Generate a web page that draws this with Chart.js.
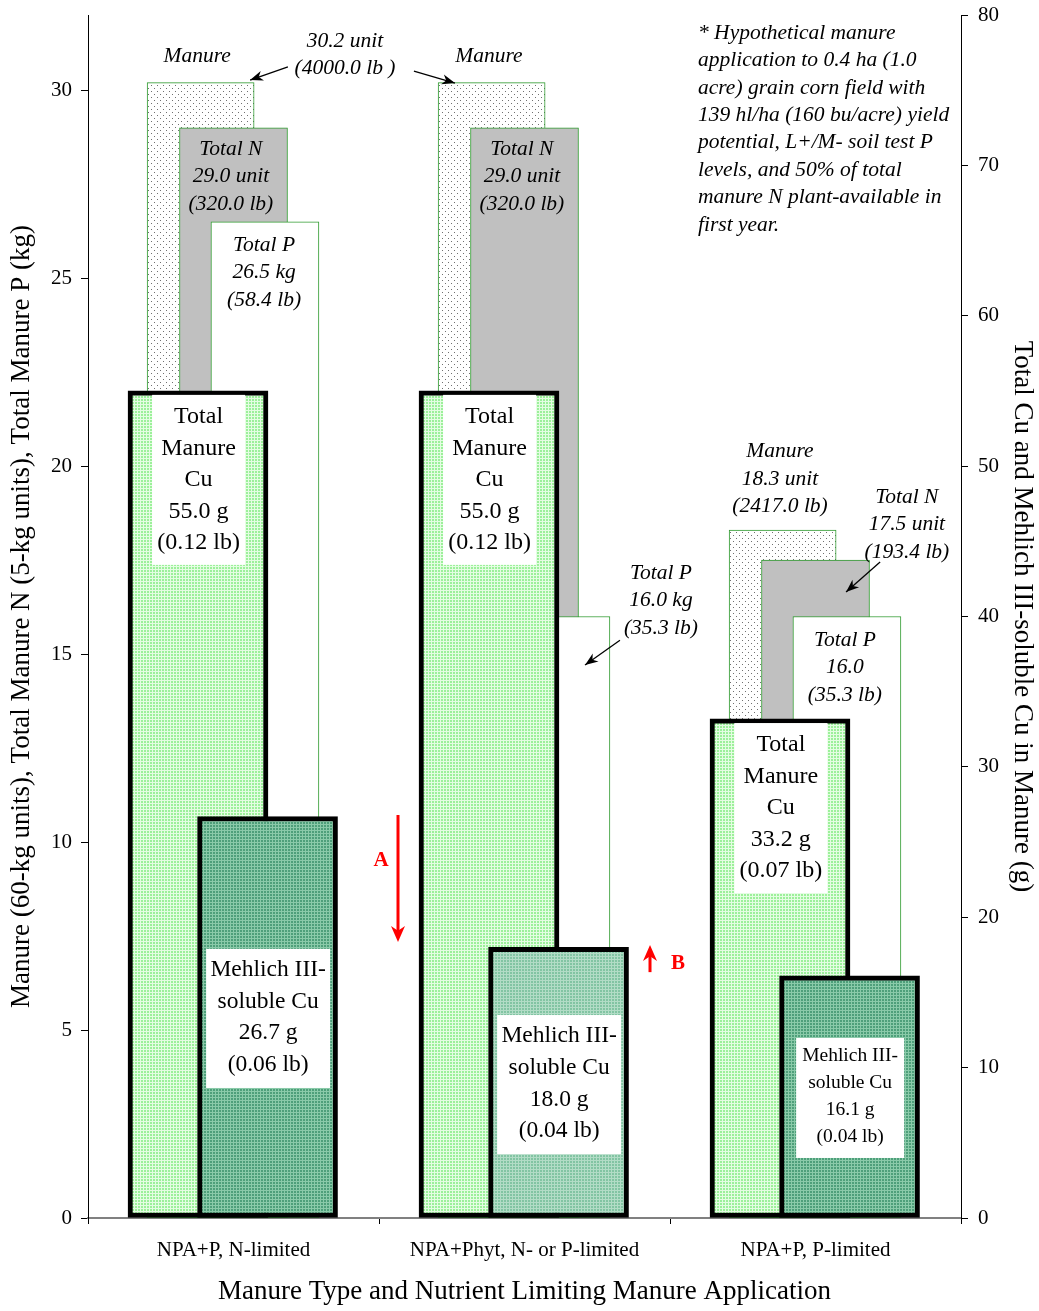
<!DOCTYPE html>
<html lang="en">
<head>
<meta charset="UTF-8">
<title>Manure Cu by manure type</title>
<script src="https://cdn.jsdelivr.net/npm/chart.js"></script>
<style>
  body { margin: 0; background: #fff; }
  #wrap { width: 1039px; height: 1311px; }
</style>
</head>
<body>
<div id="wrap"><canvas id="chart"></canvas></div>
<script>
// data
const categories = ['NPA+P, N-limited', 'NPA+Phyt, N- or P-limited', 'NPA+P, P-limited'];
const manureUnits = [30.2, 30.2, 18.3];   // 60-kg units
const manureLb = [4000.0, 4000.0, 2417.0];
const totalN = [29.0, 29.0, 17.5];        // 5-kg units
const totalNLb = [320.0, 320.0, 193.4];
const totalP = [26.5, 16.0, 16.0];        // kg
const totalPLb = [58.4, 35.3, 35.3];
const totalCu = [55.0, 55.0, 33.2];       // g, right axis
const totalCuLb = [0.12, 0.12, 0.07];
const mehlichCu = [26.7, 18.0, 16.1];     // g, right axis
const mehlichCuLb = [0.06, 0.04, 0.04];
const leftTicks = [0, 5, 10, 15, 20, 25, 30];
const rightTicks = [0, 10, 20, 30, 40, 50, 60, 70, 80];

const serif = "'Liberation Serif', 'Times New Roman', serif";

function makePattern(size, bg, fg, paint) {
  const c = document.createElement('canvas');
  c.width = size; c.height = size;
  const g = c.getContext('2d');
  g.fillStyle = bg;
  g.fillRect(0, 0, size, size);
  g.fillStyle = fg;
  paint(g);
  return document.createElement('canvas').getContext('2d').createPattern(c, 'repeat');
}

const dots = makePattern(6, '#ffffff', '#707070', g => { g.fillRect(1, 1, 1, 1); g.fillRect(4, 4, 1, 1); });
const grid3 = g => { g.fillRect(2, 0, 1, 3); g.fillRect(0, 2, 3, 1); };
const cuFill = makePattern(3, '#9cf09a', '#e4fde2', grid3);
const mehDark = makePattern(3, '#4e9f7a', '#8acaa9', grid3);
const mehLight = makePattern(3, '#82c4a3', '#b2dcc6', grid3);

// bar centre shift inside a group (x units) and width (px)
function barSet(label, values, shift, width, axis, extra) {
  return Object.assign({
    label: label,
    data: values.map((v, i) => ({ x: i + 0.5 + shift, y: v })),
    xAxisID: 'xb',
    yAxisID: axis,
    grouped: false,
    barThickness: width
  }, extra);
}

const datasets = [
  barSet('Manure', manureUnits, -0.113, 107, 'y', { backgroundColor: dots, borderColor: '#2f9a2f', borderWidth: 1, borderSkipped: false, order: 5 }),
  barSet('Total N', totalN, 0.0, 108, 'y', { backgroundColor: '#c0c0c0', borderColor: '#2f9a2f', borderWidth: 1, borderSkipped: false, order: 4 }),
  barSet('Total P', totalP, 0.108, 108, 'y', { backgroundColor: '#ffffff', borderColor: '#2f9a2f', borderWidth: 1, borderSkipped: false, order: 3 }),
  barSet('Total Manure Cu', totalCu, -0.122, 140, 'y2', { backgroundColor: cuFill, borderColor: '#000', borderWidth: 5, borderSkipped: false, order: 2 }),
  barSet('Mehlich III-soluble Cu', mehlichCu, 0.117, 140, 'y2', { backgroundColor: [mehDark, mehLight, mehDark], borderColor: '#000', borderWidth: 5, borderSkipped: false, order: 1 })
];

// text placed in data units of the bar axis (x) and left axis (y)
const italicLabels = [
  { x: 0.375, y: 30.91, lines: ['Manure'] },
  { x: 0.883, y: 31.31, lines: [manureUnits[0].toFixed(1) + ' unit', '(' + manureLb[0].toFixed(1) + ' lb )'] },
  { x: 1.378, y: 30.91, lines: ['Manure'] },
  { x: 0.491, y: 28.43, lines: ['Total N', totalN[0].toFixed(1) + ' unit', '(' + totalNLb[0].toFixed(1) + ' lb)'] },
  { x: 1.491, y: 28.43, lines: ['Total N', totalN[1].toFixed(1) + ' unit', '(' + totalNLb[1].toFixed(1) + ' lb)'] },
  { x: 0.605, y: 25.88, lines: ['Total P', totalP[0].toFixed(1) + ' kg', '(' + totalPLb[0].toFixed(1) + ' lb)'] },
  { x: 1.969, y: 17.16, lines: ['Total P', totalP[1].toFixed(1) + ' kg', '(' + totalPLb[1].toFixed(1) + ' lb)'] },
  { x: 2.378, y: 20.38, lines: ['Manure', manureUnits[2].toFixed(1) + ' unit', '(' + manureLb[2].toFixed(1) + ' lb)'] },
  { x: 2.814, y: 19.18, lines: ['Total N', totalN[2].toFixed(1) + ' unit', '(' + totalNLb[2].toFixed(1) + ' lb)'] },
  { x: 2.601, y: 15.37, lines: ['Total P', totalP[2].toFixed(1), '(' + totalPLb[2].toFixed(1) + ' lb)'] }
];

const cuLines = i => ['Total', 'Manure', 'Cu', totalCu[i].toFixed(1) + ' g', '(' + totalCuLb[i].toFixed(2) + ' lb)'];
const mehLines = i => ['Mehlich III-', 'soluble Cu', mehlichCu[i].toFixed(1) + ' g', '(' + mehlichCuLb[i].toFixed(2) + ' lb)'];
const boxLabels = [
  { x: 0.380, y: 21.31, lines: cuLines(0), size: 24, lh: 31.5, w: 93, padT: 22, padB: 22 },
  { x: 1.380, y: 21.31, lines: cuLines(1), size: 24, lh: 31.5, w: 93, padT: 22, padB: 22 },
  { x: 2.381, y: 12.58, lines: cuLines(2), size: 24, lh: 31.5, w: 93, padT: 22, padB: 22 },
  { x: 0.619, y: 6.60, lines: mehLines(0), size: 23.5, lh: 31.7, w: 124, padT: 21, padB: 23 },
  { x: 1.619, y: 4.84, lines: mehLines(1), size: 23.5, lh: 31.7, w: 124, padT: 21, padB: 23 },
  { x: 2.619, y: 4.31, lines: mehLines(2), size: 19.5, lh: 27, w: 108, padT: 18, padB: 21 }
];

const arrows = [
  { x1: 0.687, y1: 30.62, x2: 0.557, y2: 30.27 },
  { x1: 1.120, y1: 30.51, x2: 1.261, y2: 30.19 },
  { x1: 1.828, y1: 15.37, x2: 1.708, y2: 14.71 },
  { x1: 2.722, y1: 17.45, x2: 2.605, y2: 16.65 }
];
const redArrows = [
  { x1: 1.0653, y1: 10.72, x2: 1.0653, y2: 7.34, text: 'A', tx: 1.007, ty: 9.52 },
  { x1: 1.9313, y1: 6.54, x2: 1.9313, y2: 7.26, text: 'B', tx: 2.0275, ty: 6.78 }
];
const noteLines = [
  '* Hypothetical manure',
  'application to 0.4 ha (1.0',
  'acre) grain corn field with',
  '139 hl/ha (160 bu/acre) yield',
  'potential, L+/M- soil test P',
  'levels, and 50% of total',
  'manure N plant-available in',
  'first year.'
];

function arrowHead(ctx, x1, y1, x2, y2, len, half) {
  const a = Math.atan2(y2 - y1, x2 - x1);
  ctx.beginPath();
  ctx.moveTo(x2, y2);
  ctx.lineTo(x2 - len * Math.cos(a) + half * Math.sin(a), y2 - len * Math.sin(a) - half * Math.cos(a));
  ctx.lineTo(x2 - len * 0.7 * Math.cos(a), y2 - len * 0.7 * Math.sin(a));
  ctx.lineTo(x2 - len * Math.cos(a) - half * Math.sin(a), y2 - len * Math.sin(a) + half * Math.cos(a));
  ctx.closePath();
  ctx.fill();
}

const annotate = {
  id: 'annotate',
  afterDatasetsDraw(chart) {
    const ctx = chart.ctx;
    const sx = chart.scales.xb, sy = chart.scales.y;
    const X = v => sx.getPixelForValue(v), Y = v => sy.getPixelForValue(v);
    ctx.save();
    ctx.textAlign = 'center';
    ctx.textBaseline = 'middle';

    boxLabels.forEach(b => {
      const cx = X(b.x), top = Y(b.y);
      const h = b.padT + (b.lines.length - 1) * b.lh + b.padB;
      ctx.fillStyle = '#fff';
      ctx.fillRect(cx - b.w / 2, top - b.padT, b.w, h);
      ctx.fillStyle = '#000';
      ctx.font = b.size + 'px ' + serif;
      b.lines.forEach((t, k) => ctx.fillText(t, cx, top + k * b.lh));
    });

    ctx.fillStyle = '#000';
    ctx.font = 'italic 21.5px ' + serif;
    italicLabels.forEach(l => {
      l.lines.forEach((t, k) => ctx.fillText(t, X(l.x), Y(l.y) + k * 27.5));
    });

    ctx.strokeStyle = '#000';
    ctx.lineWidth = 1.3;
    arrows.forEach(a => {
      const x1 = X(a.x1), y1 = Y(a.y1), x2 = X(a.x2), y2 = Y(a.y2);
      ctx.beginPath(); ctx.moveTo(x1, y1); ctx.lineTo(x2, y2); ctx.stroke();
      arrowHead(ctx, x1, y1, x2, y2, 13, 5);
    });

    ctx.strokeStyle = '#ff0000';
    ctx.fillStyle = '#ff0000';
    ctx.lineWidth = 3;
    ctx.font = 'bold 21px ' + serif;
    redArrows.forEach(a => {
      const x1 = X(a.x1), y1 = Y(a.y1), x2 = X(a.x2), y2 = Y(a.y2);
      const dir = Math.sign(y2 - y1);
      ctx.beginPath(); ctx.moveTo(x1, y1); ctx.lineTo(x2, y2 - dir * 8); ctx.stroke();
      arrowHead(ctx, x1, y1, x2, y2, 16, 7);
      ctx.fillText(a.text, X(a.tx), Y(a.ty));
    });

    ctx.fillStyle = '#000';
    ctx.textAlign = 'left';
    ctx.font = 'italic 21.5px ' + serif;
    noteLines.forEach((t, k) => ctx.fillText(t, X(2.0962), Y(31.52) + k * 27.4));
    ctx.restore();
  }
};

// keep the plot top fixed at the layout padding
const trimPad = s => { s.paddingTop = 0; s.paddingBottom = 0; };

new Chart(document.getElementById('chart'), {
  type: 'bar',
  data: { labels: categories, datasets: datasets },
  plugins: [annotate],
  options: {
    responsive: true,
    maintainAspectRatio: false,
    animation: false,
    layout: { padding: { top: 15, left: 0, right: 0, bottom: 0 } },
    plugins: { legend: { display: false }, tooltip: { enabled: false } },
    scales: {
      x: {
        type: 'category',
        position: 'bottom',
        offset: true,
        grid: { offset: true, drawOnChartArea: false, tickLength: 6, color: '#000' },
        border: { color: '#808080', width: 2 },
        ticks: { color: '#000', padding: 14, maxRotation: 0, font: { family: serif, size: 21 } },
        title: { display: true, text: 'Manure Type and Nutrient Limiting Manure Application', color: '#000', padding: { top: 4, bottom: 3 }, font: { family: serif, size: 27 } },
        afterFit: s => { s.height = 93; }
      },
      xb: { type: 'linear', display: false, offset: false, min: 0, max: 3, grid: { offset: false } },
      y: {
        position: 'left',
        min: 0, max: 32,
        afterBuildTicks: s => { s.ticks = leftTicks.map(v => ({ value: v })); },
        grid: { drawOnChartArea: false, tickLength: 7, color: '#000' },
        border: { color: '#000', width: 1 },
        ticks: { color: '#000', padding: 9, font: { family: serif, size: 21 } },
        title: { display: true, text: 'Manure (60-kg units), Total Manure N (5-kg units), Total Manure P (kg)', color: '#000', padding: { top: 6, bottom: 4 }, font: { family: serif, size: 27 } },
        afterFit: s => { s.width = 88; trimPad(s); }
      },
      y2: {
        position: 'right',
        min: 0, max: 80,
        afterBuildTicks: s => { s.ticks = rightTicks.map(v => ({ value: v })); },
        grid: { drawOnChartArea: false, tickLength: 7, color: '#000' },
        border: { color: '#000', width: 1 },
        ticks: { color: '#000', padding: 10, font: { family: serif, size: 21 } },
        title: { display: true, text: 'Total Cu and Mehlich III-soluble Cu in Manure (g)', color: '#000', padding: { top: 1, bottom: 4 }, font: { family: serif, size: 27 } },
        afterFit: s => { s.width = 78; trimPad(s); }
      }
    }
  }
});
</script>
</body>
</html>
